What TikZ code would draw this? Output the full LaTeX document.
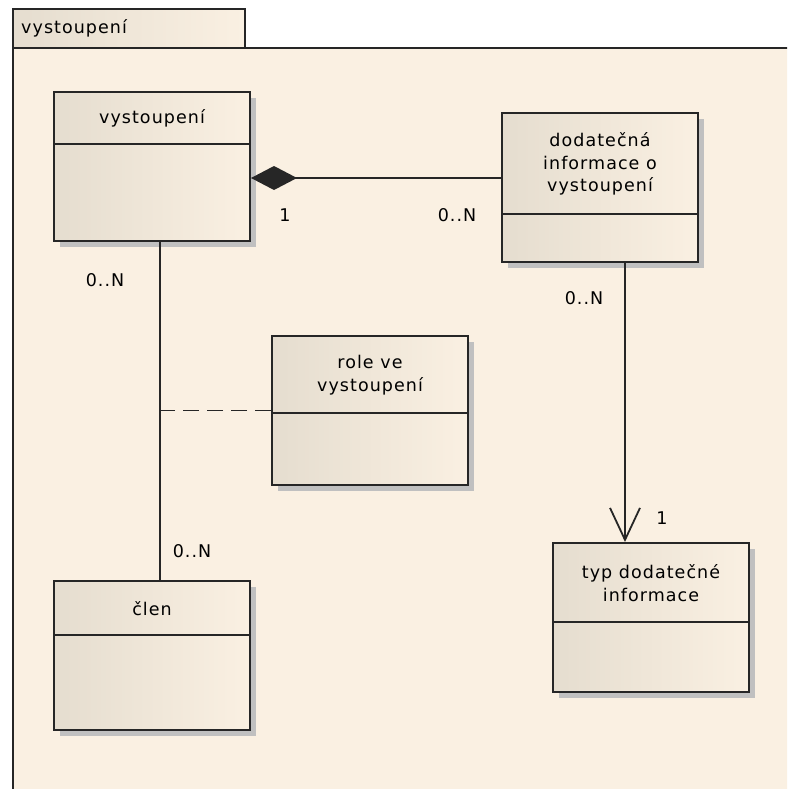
\documentclass[tikz,border=0pt]{standalone}
\usepackage{fontspec}
\setmainfont{DejaVu Sans}[LetterSpace=6]
\usetikzlibrary{arrows.meta,shadows}

\definecolor{pkgfill}{RGB}{250,240,226}
\definecolor{clsdark}{RGB}{229,221,207}
\definecolor{shadowgray}{RGB}{192,192,192}

\tikzset{
  umlfont/.style={font=\fontsize{17.5}{22.5}\selectfont},
  clsbox/.style={draw=black!85, line width=2pt, left color=clsdark, right color=pkgfill,
    minimum width=196pt, minimum height=149pt, inner sep=0pt,
    drop shadow={shadow xshift=6pt, shadow yshift=-6pt, fill=shadowgray, opacity=1}},
  clsline/.style={draw=black!85, line width=2pt},
  clstitle/.style={umlfont, align=center, inner sep=0pt},
  mult/.style={umlfont, inner sep=0pt},
  assoc/.style={draw=black!85, line width=1.8pt}
}

\begin{document}
\begin{tikzpicture}[x=1pt, y=-1pt]
  \useasboundingbox (0,0) rectangle (787,789);
  \clip (0,0) rectangle (787,789);
  % package frame
  \draw[line width=2pt, draw=black!85, fill=pkgfill] (13,48) rectangle (820,820);
  \draw[line width=2pt, draw=black!85, left color=clsdark, right color=pkgfill] (13,9) rectangle (245,48);
  \node[umlfont, anchor=west, inner sep=0pt] (pkgname) at (21,28) {vystoupení};

  % classes: name / left / top / divider / title
  \foreach \n/\l/\t/\d/\txt in {vyst/54/92/53/{vystoupení},
      dod/502/113/102/{dodatečná\\informace o\\vystoupení},
      role/272/336/78/{role ve\\vystoupení},
      typ/553/543/80/{typ dodatečné\\informace},
      clen/54/581/55/{člen}}{
    \node[clsbox] (\n) at (\l+98,\t+74.5) {};
    \draw[clsline] (\n.north west) ++(0,\d) -- ++(196,0);
    \node[clstitle] (\n-title) at (\l+98,\t+\d/2) {\txt};
  }

  % connectors
  \draw[assoc, {Diamond[length=46pt,width=24pt]}-] ([yshift=-11.5pt]vyst.east) coordinate (c1) -- (c1 -| dod.west);
  \draw[assoc] ([xshift=8pt]vyst.south) coordinate (c2) -- (c2 |- clen.north);
  \draw[assoc, dash pattern=on 16pt off 8pt] (role.west) -- (role.west -| c2);
  \draw[assoc, -{Straight Barb[length=32pt,width=30pt]}] ([xshift=25pt]dod.south) coordinate (c3) -- (c3 |- typ.north);

  % multiplicities
  \foreach \i/\x/\y/\txt in {1/285/215/1, 2/457/215/0..N, 3/105/280/0..N,
      4/192/551/0..N, 5/584/298/0..N, 6/662/518/1}
    \node[mult] (m\i) at (\x,\y) {\txt};
\end{tikzpicture}
\end{document}
